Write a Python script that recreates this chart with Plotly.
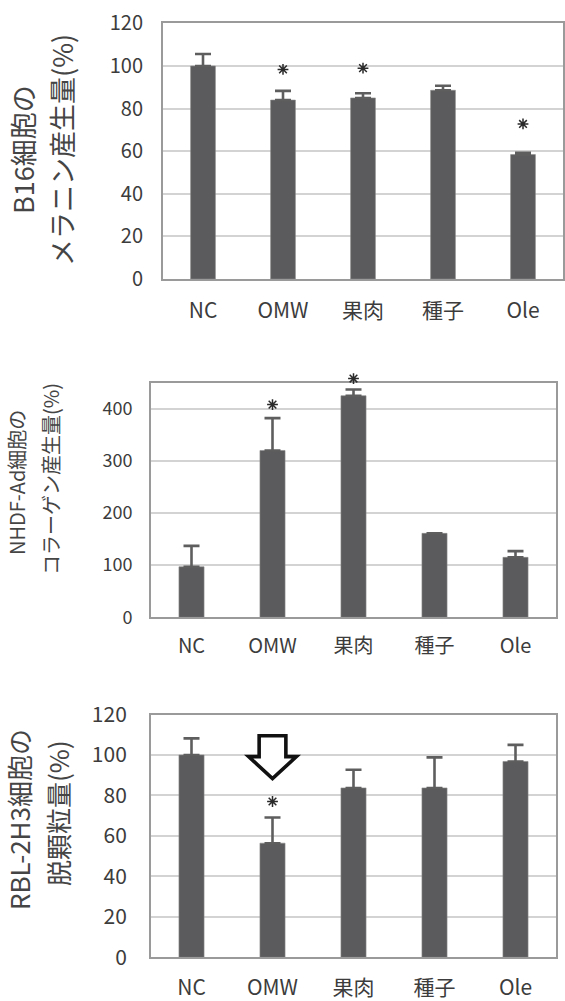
import plotly.graph_objects as go

# ---------------- data ----------------
categories = ["NC", "OMW", "果肉", "種子", "Ole"]

melanin = [100, 84, 85, 88.6, 58.4]
melanin_err = [5.6, 4.3, 2.2, 2.1, 0.9]
melanin_star = [None, 98.4, 99, None, 72.8]

collagen = [97, 320, 425, 161, 115]
collagen_err = [40, 62, 12, 0, 12]
collagen_star = [None, 408, 458, None, None]

degran = [100, 56.4, 83.7, 83.7, 96.8]
degran_err = [8.2, 12.7, 9.0, 15.1, 8.2]
degran_star = [None, 77, None, None, None]

melanin_ticks = [0, 20, 40, 60, 80, 100, 120]
collagen_ticks = [0, 100, 200, 300, 400]
degran_ticks = [0, 20, 40, 60, 80, 100, 120]

# arrow annotation (bottom panel, pointing at OMW)
arrow_cat = "OMW"
arrow_top, arrow_neck, arrow_tip = 109.5, 99.2, 88.3
arrow_shaft_hw, arrow_head_hw = 0.165, 0.295

# ---------------- style ----------------
W, H = 565, 1001
BAR = "#5b5b5d"
ERR = "#5e5e5e"
GRID = "#d3d3d3"
FRAME = "#9a9a9a"
TXT = "#3c3c3c"
TITLE = "#454545"
STAR = "#2a2a2a"
FONT = "Noto Sans CJK JP"

idx = list(range(len(categories)))


def px_x(a, b):
    return [a / W, b / W]


def px_y(top, bottom):
    return [max(0.0, 1 - bottom / H), min(1.0, 1 - top / H)]


# panel pixel boxes (left, right, top, bottom) and y ranges
boxes = [(163, 563, 23.4, 279.0), (151, 556, 382.7, 617.3), (151, 556, 714.5, 957.3)]
yranges = [[0, 120], [0, 450], [0, 120]]

fig = go.Figure()

panels = [
    (melanin, melanin_err, melanin_star),
    (collagen, collagen_err, collagen_star),
    (degran, degran_err, degran_star),
]
for k, (vals, errs, stars) in enumerate(panels):
    sfx = "" if k == 0 else str(k + 1)
    fig.add_trace(go.Bar(
        x=idx, y=vals, width=0.31,
        marker=dict(color=BAR, line=dict(color="#8a8a8a", width=0.6)),
        error_y=dict(type="data", array=errs, arrayminus=[0] * len(errs),
                     symmetric=False, color=ERR, thickness=2.6, width=8),
        xaxis="x" + sfx, yaxis="y" + sfx, showlegend=False,
    ))
    sx = [i for i, s in zip(idx, stars) if s is not None]
    sy = [s for s in stars if s is not None]
    # stars live on an invisible y axis with the same scale, extended upwards
    fig.add_trace(go.Scatter(
        x=sx, y=sy, mode="markers",
        marker=dict(symbol="asterisk-open", size=9, color=STAR,
                    line=dict(color=STAR, width=1.5)),
        xaxis="x" + sfx, yaxis="y" + str(k + 4), showlegend=False,
        cliponaxis=False,
    ))

# arrow polygon (outline)
c = categories.index(arrow_cat)
path = (f"M {c - arrow_shaft_hw} {arrow_top} L {c + arrow_shaft_hw} {arrow_top} "
        f"L {c + arrow_shaft_hw} {arrow_neck} L {c + arrow_head_hw} {arrow_neck} "
        f"L {c} {arrow_tip} L {c - arrow_head_hw} {arrow_neck} "
        f"L {c - arrow_shaft_hw} {arrow_neck} Z")
fig.add_shape(type="path", path=path, xref="x3", yref="y3",
              line=dict(color="#111111", width=3.6), fillcolor="white")


def xaxis(dom, fs, standoff, anchor):
    return dict(domain=dom, range=[-0.5, len(categories) - 0.5],
                tickvals=idx, ticktext=categories, showgrid=False,
                showline=True, linecolor=FRAME, linewidth=2, mirror=True,
                ticks="", zeroline=False, fixedrange=True, automargin=False,
                tickfont=dict(family=FONT, size=fs, color=TXT),
                ticklabelstandoff=standoff, anchor=anchor)


def yaxis(dom, rng, tv, fs, standoff, anchor):
    return dict(domain=dom, range=rng, tickvals=tv, showgrid=True,
                gridcolor=GRID, gridwidth=2, showline=True, linecolor=FRAME,
                linewidth=2, mirror=True, ticks="", zeroline=False,
                automargin=False,
                tickfont=dict(family=FONT, size=fs, color=TXT),
                ticklabelstandoff=standoff, anchor=anchor, fixedrange=True)


xfs = [21, 20, 21]
xso = [12, 10, 10]
yfs = [20, 18, 21]
yso = [14, 13, 18]
layout = {}
for k, (l, r, t, b) in enumerate(boxes):
    sfx = "" if k == 0 else str(k + 1)
    layout["xaxis" + sfx] = xaxis(px_x(l, r), xfs[k], xso[k], "y" + sfx)
    layout["yaxis" + sfx] = yaxis(px_y(t, b), yranges[k],
                                  [melanin_ticks, collagen_ticks, degran_ticks][k],
                                  yfs[k], yso[k], "x" + sfx)
    # invisible star axis: same px/unit, extends above the frame
    ppu = (b - t) / (yranges[k][1] - yranges[k][0])
    ext_top = max(t - 30, 0.0)
    layout["yaxis" + str(k + 4)] = dict(
        domain=px_y(ext_top, b),
        range=[yranges[k][0], yranges[k][0] + (b - ext_top) / ppu],
        visible=False, fixedrange=True, automargin=False, anchor="x" + sfx)

fig.update_layout(
    width=W, height=H, autosize=False,
    margin=dict(l=0, r=0, t=0, b=0, autoexpand=False),
    paper_bgcolor="white", plot_bgcolor="rgba(0,0,0,0)",
    hovermode=False,
    **layout,
)

titles = [
    ("B16細胞の", 22, 150, 27),
    ("メラニン産生量(%)", 61, 150, 27),
    ("NHDF-Ad細胞の", 16, 483, 20),
    ("コラーゲン産生量(%)", 50, 479, 20),
    ("RBL-2H3細胞の", 18, 820, 26),
    ("脱顆粒量(%)", 57, 813, 26),
]
for text, cx, cy, fs in titles:
    fig.add_annotation(text=text, x=cx / W, y=1 - cy / H, xref="paper",
                       yref="paper", xanchor="center", yanchor="middle",
                       textangle=-90, showarrow=False,
                       font=dict(family=FONT, size=fs, color=TITLE))

fig.write_html(
    "out.html",
    config={"displayModeBar": False, "staticPlot": True},
    post_script="document.body.style.margin='0';"
                "document.documentElement.style.overflow='hidden';",
)
